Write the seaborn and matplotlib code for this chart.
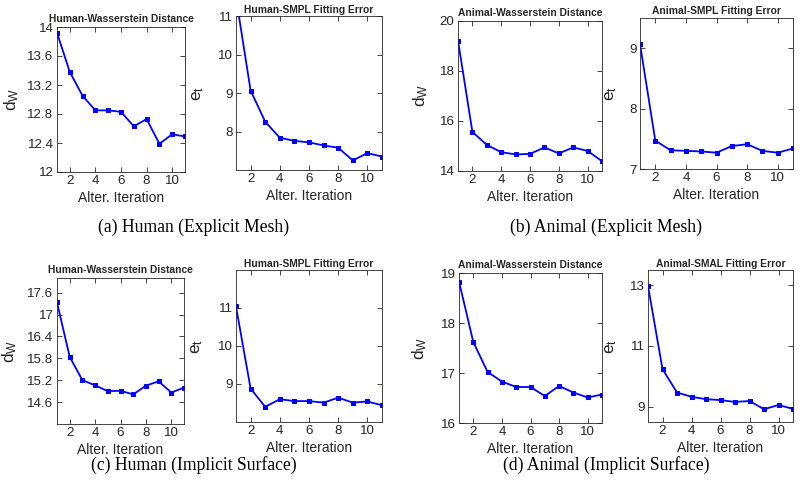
import matplotlib
matplotlib.use("Agg")
import matplotlib.pyplot as plt
import seaborn as sns
from matplotlib.ticker import FixedLocator, FuncFormatter

sns.set_theme(style="ticks")
plt.rcParams['font.family'] = ['Liberation Sans', 'DejaVu Sans']
plt.rcParams['mathtext.default'] = 'regular'

iters = [1, 2, 3, 4, 5, 6, 7, 8, 9, 10, 11]

human_wd_mesh = [13.92, 13.38, 13.05, 12.85, 12.85, 12.83, 12.63, 12.73, 12.39, 12.52, 12.49]
human_fit_mesh = [11.5, 9.07, 8.26, 7.84, 7.76, 7.72, 7.64, 7.58, 7.25, 7.44, 7.35]
animal_wd_mesh = [19.2, 15.55, 15.03, 14.74, 14.65, 14.67, 14.93, 14.69, 14.93, 14.79, 14.38]
animal_fit_mesh = [9.07, 7.47, 7.31, 7.30, 7.29, 7.27, 7.38, 7.41, 7.30, 7.27, 7.34]
human_wd_impl = [17.33, 15.84, 15.2, 15.06, 14.9, 14.91, 14.81, 15.05, 15.17, 14.86, 15.0]
human_fit_impl = [11.04, 8.88, 8.4, 8.6, 8.55, 8.55, 8.51, 8.64, 8.51, 8.54, 8.44]
animal_wd_impl = [18.83, 17.62, 17.02, 16.83, 16.72, 16.72, 16.54, 16.74, 16.61, 16.51, 16.57]
animal_fit_impl = [12.98, 10.24, 9.47, 9.33, 9.25, 9.22, 9.16, 9.19, 8.92, 9.06, 8.93]

titles = ["Human-Wasserstein Distance", "Human-SMPL Fitting Error",
          "Animal-Wasserstein Distance", "Animal-SMPL Fitting Error",
          "Human-Wasserstein Distance", "Human-SMPL Fitting Error",
          "Animal-Wasserstein Distance", "Animal-SMAL Fitting Error"]
ylabels = ["d$_W$", "e$_t$", "d$_W$", "e$_t$", "d$_W$", "e$_t$", "d$_W$", "e$_t$"]
series = [human_wd_mesh, human_fit_mesh, animal_wd_mesh, animal_fit_mesh,
          human_wd_impl, human_fit_impl, animal_wd_impl, animal_fit_impl]
ylims = [(12, 14), (7, 11), (14, 20), (7, 9.5), (14, 18), (8, 12), (16, 19), (8.5, 13.5)]
yticks = [[12, 12.4, 12.8, 13.2, 13.6, 14], [8, 9, 10, 11], [14, 16, 18, 20], [7, 8, 9],
          [14.6, 15.2, 15.8, 16.4, 17.0, 17.6], [9, 10, 11], [16, 17, 18, 19], [9, 11, 13]]
xticks = [2, 4, 6, 8, 10]
captions = ["(a) Human (Explicit Mesh)", "(b) Animal (Explicit Mesh)",
            "(c) Human (Implicit Surface)", "(d) Animal (Implicit Surface)"]

# axes boxes in pixels: left, top, right, bottom
boxes = [(57, 27, 185, 172), (236, 16.5, 382, 170), (458, 20.5, 602, 170.7), (640, 18, 793, 169),
         (57, 278, 184, 424), (236, 270, 382, 422), (459, 273, 602, 423), (648, 270, 793, 422)]
ylab_off = [36, 30, 28, 21, 38, 31, 30, 29]
title_pad = [3.5, 2.5, 3.5, 3, 3.5, 2.5, 3.5, 2.5]

W, H = 801, 492
fig = plt.figure(figsize=(W / 100, H / 100), dpi=100)
dark = '#262626'
for i in range(8):
    l, t, r, b = boxes[i]
    ax = fig.add_axes([l / W, 1 - b / H, (r - l) / W, (b - t) / H])
    sns.lineplot(x=iters, y=series[i], ax=ax, color='blue', marker='s',
                 markersize=3.2, markeredgecolor='blue', linewidth=1.3)
    ax.set_xlim(1, 11)
    ax.set_ylim(*ylims[i])
    ax.xaxis.set_major_locator(FixedLocator(xticks))
    ax.yaxis.set_major_locator(FixedLocator(yticks[i]))
    ax.yaxis.set_major_formatter(FuncFormatter(lambda v, p: f"{v:g}"))
    ax.tick_params(direction='in', length=3.5, width=0.6, top=True, right=True,
                   labelsize=9.6, colors=dark, pad=2.5)
    for s in ax.spines.values():
        s.set_visible(True)
        s.set_color(dark)
        s.set_linewidth(0.6)
    ax.set_title(titles[i], fontsize=7.4, fontweight='bold', color=dark, pad=title_pad[i])
    ax.set_ylabel(ylabels[i], fontsize=12.5, color=dark)
    ax.yaxis.set_label_coords(-ylab_off[i] / (r - l), 0.5)
    ax.set_xlabel("Alter. Iteration", fontsize=10, color=dark, labelpad=2.5)
    ax.grid(False)

cap_pos = [(194, 227), (606, 227), (194, 465), (606, 465)]
for (cx, cy), txt in zip(cap_pos, captions):
    fig.text(cx / W, 1 - cy / H, txt, ha='center', va='center', fontsize=12.7,
             family=['Liberation Serif', 'DejaVu Serif'], color='black')

fig.savefig("out.png", dpi=100)
